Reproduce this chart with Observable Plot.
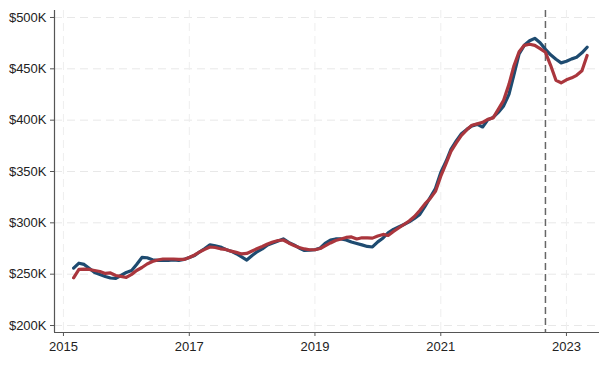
<!DOCTYPE html>
<html>
<head>
<meta charset="utf-8">
<script src="https://cdn.jsdelivr.net/npm/d3@7"></script>
<script src="https://cdn.jsdelivr.net/npm/@observablehq/plot@0.6"></script>
<style>
  html, body { margin: 0; padding: 0; background: #fff; }
</style>
</head>
<body>
<div id="chart"></div>
<script>
// Monthly series, March 2015 – May 2023 (values in $ thousands)
const startMonth = "2015-03";
const endMonth = "2023-05";

const blueValues = [
  // 2015 (Mar–Dec)
  255.9, 260.7, 259.5, 255.5, 251.7, 249.8, 247.8, 246.3, 245.9, 248.7,
  // 2016
  251.7, 253.6, 259.5, 266.3, 266.0, 264.0, 263.4, 263.4, 263.4, 264.0, 263.4, 264.4,
  // 2017
  266.3, 268.2, 271.6, 275.0, 278.5, 277.5, 276.5, 274.1, 272.4, 269.9, 266.8, 263.8,
  // 2018
  268.2, 272.1, 274.6, 278.5, 280.4, 282.4, 284.3, 280.9, 278.5, 275.5, 273.1, 273.3,
  // 2019
  273.8, 275.5, 280.0, 283.3, 284.3, 284.3, 283.3, 281.4, 279.9, 278.5, 277.0, 276.5,
  // 2020
  281.5, 285.3, 290.2, 293.6, 295.9, 298.4, 300.9, 304.3, 308.2, 316.0, 324.8, 333.5,
  // 2021
  349.0, 360.0, 371.5, 379.8, 386.8, 391.0, 394.4, 395.9, 393.4, 400.3, 402.7, 407.6,
  // 2022
  413.9, 425.1, 443.6, 464.6, 472.9, 477.3, 479.7, 475.3, 469.0, 463.6, 459.3, 455.8,
  // 2023 (Jan–May)
  457.3, 459.7, 461.2, 465.6, 471.0
];

const redValues = [
  // 2015 (Mar–Dec)
  246.5, 254.6, 255.0, 254.6, 253.6, 252.6, 250.7, 251.2, 248.7, 247.8,
  // 2016
  246.8, 249.8, 253.6, 256.5, 259.9, 262.3, 263.8, 264.8, 264.8, 264.8, 264.4, 264.4,
  // 2017
  266.3, 268.7, 271.6, 274.1, 276.5, 276.0, 274.7, 274.1, 272.4, 271.2, 269.7, 270.2,
  // 2018
  272.6, 275.0, 277.0, 279.4, 281.4, 282.8, 283.3, 280.4, 278.0, 276.0, 274.6, 273.8,
  // 2019
  273.8, 275.0, 277.5, 280.4, 282.8, 284.3, 285.8, 286.3, 284.3, 285.5, 285.3, 285.1,
  // 2020
  287.2, 288.7, 287.7, 291.6, 295.0, 298.4, 301.8, 306.2, 312.0, 318.4, 323.8, 330.6,
  // 2021
  345.5, 358.0, 369.6, 377.9, 385.2, 390.6, 395.0, 396.4, 397.9, 400.8, 402.2, 410.5,
  // 2022
  419.3, 434.9, 452.4, 466.6, 472.9, 473.9, 472.9, 469.6, 466.1, 453.4, 438.8, 436.4,
  // 2023 (Jan–May)
  439.3, 441.2, 443.7, 448.1, 463.0
];

const yTicks = [200, 250, 300, 350, 400, 450, 500];
const xTickYears = [2015, 2017, 2019, 2021, 2023];
const markerDate = "2022-09-01";
const yDomain = [193.2, 506.8];
const xDomain = ["2014-11-10", "2023-07-12"];

const seriesColors = { blue: "#1e4b70", red: "#aa363d" };

// build tables
const parse = d3.utcParse("%Y-%m");
const months = d3.utcMonth.range(parse(startMonth), d3.utcMonth.offset(parse(endMonth), 1));
const blueData = months.map((date, i) => ({ date, value: blueValues[i] }));
const redData = months.map((date, i) => ({ date, value: redValues[i] }));
const xTicks = xTickYears.map(y => new Date(Date.UTC(y, 0, 1)));
const xDom = xDomain.map(d => d3.utcParse("%Y-%m-%d")(d));
const marker = d3.utcParse("%Y-%m-%d")(markerDate);

const chart = Plot.plot({
  width: 608,
  height: 371,
  marginLeft: 54,
  marginRight: 9,
  marginTop: 10,
  marginBottom: 39,
  style: {
    fontFamily: "'Liberation Sans', Arial, sans-serif",
    fontSize: "13px",
    color: "#222",
    background: "#fff"
  },
  x: { type: "utc", domain: xDom },
  y: { domain: yDomain },
  marks: [
    Plot.gridY(yTicks, { stroke: "#e8e8e8", strokeOpacity: 1, strokeDasharray: "8,5" }),
    Plot.gridX(xTicks, { stroke: "#eeeeee", strokeOpacity: 1, strokeDasharray: "8,5" }),
    Plot.axisY(yTicks, {
      tickSize: 4, tickPadding: 4, tickFormat: d => `$${d}K`,
      label: null, stroke: "#555", fill: "#222", fontSize: 13
    }),
    Plot.axisX(xTicks, {
      tickSize: 4, tickPadding: 5, tickFormat: d3.utcFormat("%Y"),
      label: null, stroke: "#555", fill: "#222", fontSize: 13
    }),
    Plot.ruleX([xDom[0]], { stroke: "#555", strokeWidth: 1.2 }),
    Plot.ruleY([yDomain[0]], { stroke: "#555", strokeWidth: 1.2 }),
    Plot.ruleX([marker], { stroke: "#666", strokeWidth: 1.5, strokeDasharray: "7,4" }),
    Plot.line(blueData, { x: "date", y: "value", stroke: seriesColors.blue, strokeWidth: 3.2, curve: "linear" }),
    Plot.line(redData, { x: "date", y: "value", stroke: seriesColors.red, strokeWidth: 3.2, curve: "linear" })
  ]
});

document.getElementById("chart").appendChild(chart);
</script>
</body>
</html>
